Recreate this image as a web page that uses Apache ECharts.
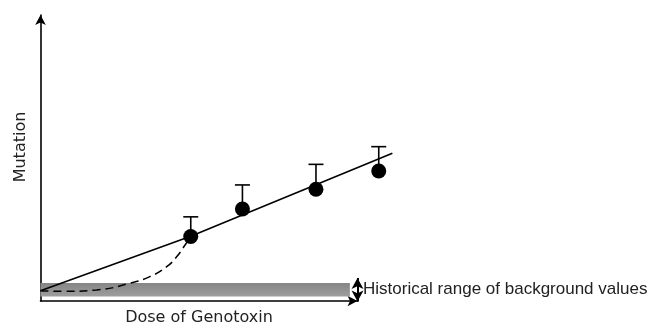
<!DOCTYPE html>
<html>
<head>
<meta charset="utf-8">
<script src="https://cdn.jsdelivr.net/npm/echarts@6/dist/echarts.min.js"></script>
<style>
html, body { margin: 0; padding: 0; background: #fff; }
#chart { width: 651px; height: 331px; }
</style>
</head>
<body>
<div id="chart"></div>
<script>
// observed doses and mean mutation values
var doses = [4.74, 6.37, 8.69, 10.67];
var means = [23.6, 33.1, 39.9, 46.2];
var upper = [30.4, 41.4, 48.5, 54.6];

// linear fit through the data
var fitLine = [[0, 4.9], [4.74, 23.7], [11.1, 52.3]];

// hypothetical threshold (dashed) response
var thresholdCurve = [[0, 4.9], [0.71, 4.7], [1.77, 5.2], [2.82, 7.5], [3.45, 9.8],
    [3.98, 13.2], [4.3, 16.7], [4.56, 20.7], [4.74, 23.6]];

// historical background range
var bgLow = 2.9;
var bgHigh = 7.6;
var bgEnd = 9.76;
var rangeArrowX = 10.0;
var rangeArrowY = [1.2, 9.3];

var points = doses.map(function (d, i) { return [d, means[i]]; });
var errBars = doses.map(function (d, i) { return [d, means[i], upper[i]]; });

var dom = document.getElementById('chart');
var myChart = echarts.init(dom, null, { renderer: 'canvas' });

var hidden = {
    axisLine: { show: false }, axisTick: { show: false },
    axisLabel: { show: false }, splitLine: { show: false }
};

var option = {
    animation: false,
    backgroundColor: '#fff',
    grid: [
        { left: 40.5, top: 15, width: 317, height: 290 },
        { left: 40.5, top: 15, width: 380.4, height: 290 }
    ],
    xAxis: [{
        type: 'value', min: 0, max: 10, gridIndex: 0,
        name: 'Dose of Genotoxin',
        nameLocation: 'middle',
        nameGap: 9,
        nameTextStyle: { fontFamily: 'DejaVu Sans', fontSize: 16, color: '#222', verticalAlign: 'top' },
        axisLine: { lineStyle: { color: '#000', width: 1.6 }, symbol: ['none', 'arrow'], symbolSize: [8, 10] },
        axisTick: { show: false },
        axisLabel: { show: false },
        splitLine: { show: false }
    }, Object.assign({ type: 'value', min: 0, max: 12, gridIndex: 1 }, hidden)],
    yAxis: [{
        type: 'value', min: 0, max: 100, gridIndex: 0,
        axisLine: { lineStyle: { color: '#000', width: 1.6 }, symbol: ['none', 'arrow'], symbolSize: [8, 10] },
        axisTick: { show: false },
        axisLabel: { show: false },
        splitLine: { show: false }
    }, Object.assign({ type: 'value', min: 0, max: 100, gridIndex: 1 }, hidden)],
    graphic: [{
        type: 'text',
        x: 21, y: 147,
        rotation: Math.PI / 2,
        style: {
            text: 'Mutation',
            fontFamily: 'DejaVu Sans', fontSize: 16, fill: '#222',
            align: 'center', verticalAlign: 'middle'
        }
    }],
    series: [
        {
            type: 'line',
            xAxisIndex: 1, yAxisIndex: 1,
            data: fitLine,
            clip: false,
            symbol: 'none',
            lineStyle: { color: '#000', width: 1.6 },
            z: 3,
            markArea: {
                silent: true,
                itemStyle: {
                    color: new echarts.graphic.LinearGradient(0, 0, 0, 1, [
                        { offset: 0, color: '#858585' },
                        { offset: 1, color: '#9e9e9e' }
                    ])
                },
                data: [[{ coord: [0, bgHigh] }, { coord: [bgEnd, bgLow] }]]
            },
            markLine: {
                silent: true,
                symbol: ['arrow', 'arrow'],
                symbolSize: [9, 11],
                lineStyle: { color: '#000', width: 2, type: 'solid' },
                label: { show: false },
                data: [[{ coord: [rangeArrowX, rangeArrowY[0]] }, { coord: [rangeArrowX, rangeArrowY[1]] }]]
            },
            markPoint: {
                silent: true,
                symbol: 'circle',
                symbolSize: 1,
                itemStyle: { color: 'rgba(0,0,0,0)' },
                label: {
                    show: true,
                    position: 'right',
                    distance: 5,
                    formatter: 'Historical range of background values',
                    fontFamily: 'Liberation Sans', fontSize: 17, color: '#222'
                },
                data: [{ coord: [rangeArrowX, (bgLow + bgHigh) / 2 + 0.2] }]
            }
        },
        {
            type: 'line',
            xAxisIndex: 1, yAxisIndex: 1,
            data: thresholdCurve,
            clip: false,
            smooth: 0.5,
            symbol: 'none',
            lineStyle: { color: '#000', width: 1.5, type: [8, 5] },
            z: 3
        },
        {
            type: 'custom',
            xAxisIndex: 1, yAxisIndex: 1,
            data: errBars,
            clip: false,
            z: 4,
            renderItem: function (params, api) {
                var p0 = api.coord([api.value(0), api.value(1)]);
                var p1 = api.coord([api.value(0), api.value(2)]);
                return {
                    type: 'group',
                    children: [
                        { type: 'line', shape: { x1: p0[0], y1: p0[1], x2: p1[0], y2: p1[1] },
                          style: { stroke: '#000', lineWidth: 1.6 } },
                        { type: 'line', shape: { x1: p1[0] - 7.5, y1: p1[1], x2: p1[0] + 7.5, y2: p1[1] },
                          style: { stroke: '#000', lineWidth: 1.6 } }
                    ]
                };
            }
        },
        {
            type: 'scatter',
            xAxisIndex: 1, yAxisIndex: 1,
            data: points,
            clip: false,
            symbol: 'circle',
            symbolSize: 15,
            itemStyle: { color: '#000', opacity: 1 },
            z: 5
        }
    ]
};

if (option && typeof option === 'object') {
    myChart.setOption(option, true);
}
</script>
</body>
</html>
